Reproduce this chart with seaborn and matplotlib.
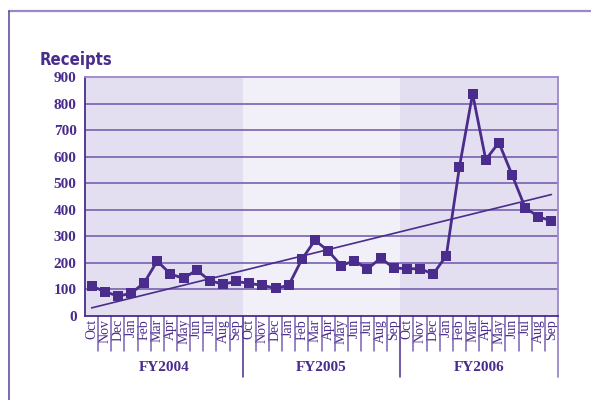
import numpy as np
import pandas as pd
import matplotlib
matplotlib.use('Agg')
import matplotlib.pyplot as plt
import seaborn as sns

# monthly receipts, Oct FY2004 .. Sep FY2006
months = ['Oct', 'Nov', 'Dec', 'Jan', 'Feb', 'Mar', 'Apr', 'May', 'Jun', 'Jul', 'Aug', 'Sep']
fiscal_years = ['FY2004', 'FY2005', 'FY2006']
fy2004 = [113, 92, 75, 85, 125, 207, 158, 142, 173, 133, 120, 130]
fy2005 = [123, 115, 105, 115, 213, 285, 246, 190, 208, 177, 218, 181]
fy2006 = [178, 178, 158, 227, 562, 837, 589, 653, 532, 408, 374, 358]
y_ticks = [0, 100, 200, 300, 400, 500, 600, 700, 800, 900]

dark = '#4a2c8c'
band_dark = '#e3dff0'
band_light = '#f1eff8'
grid_col = '#6e56aa'

df = pd.DataFrame({
    'month': months * 3,
    'fy': np.repeat(fiscal_years, 12),
    'receipts': fy2004 + fy2005 + fy2006,
})
df['pos'] = np.arange(len(df))

sns.set_theme(style='white')
plt.rcParams['font.family'] = ['Liberation Serif', 'DejaVu Serif']

fig = plt.figure(figsize=(5.91, 4.0), dpi=100)
ax = fig.add_axes([85 / 591, 84 / 400, 473 / 591, 239 / 400])

# fiscal year background bands
for i, fy in enumerate(fiscal_years):
    ax.axvspan(i * 12 - 0.5, i * 12 + 11.5, color=band_dark if i != 1 else band_light, zorder=0, lw=0)

for v in y_ticks[1:-1]:
    ax.axhline(v, color=grid_col, lw=1.1, zorder=1)

# linear trend
coef = np.polyfit(df['pos'], df['receipts'], 1)
ax.plot([df['pos'].iloc[0], df['pos'].iloc[-1]], np.polyval(coef, [df['pos'].iloc[0], df['pos'].iloc[-1]]),
        color=dark, lw=1.2, zorder=2)

sns.lineplot(data=df, x='pos', y='receipts', ax=ax, color=dark, lw=2.0,
             marker='s', markersize=7.5, markeredgewidth=0, zorder=3)

ax.set_xlim(-0.5, len(df) - 0.5)
ax.set_ylim(0, 900)
ax.set_yticks(y_ticks)
ax.set_yticklabels([str(v) for v in y_ticks], fontweight='bold', fontsize=11, color=dark)
ax.set_xticks(df['pos'])
ax.set_xticklabels(df['month'], rotation=90, fontsize=10, color=dark)
ax.tick_params(axis='both', length=0, pad=2)
ax.tick_params(axis='y', pad=6)
ax.set_xlabel('')
ax.set_ylabel('')

for side in ['left', 'bottom']:
    ax.spines[side].set_color(dark)
    ax.spines[side].set_linewidth(1.3)
for side in ['top', 'right']:
    ax.spines[side].set_color('#9c88c8')
    ax.spines[side].set_linewidth(1.3)

# separators under the axis
trans = ax.get_xaxis_transform()
for i in range(1, len(df)):
    long = i % 12 == 0
    ax.plot([i - 0.5, i - 0.5], [0, -0.255 if long else -0.146], transform=trans,
            color=dark if long else '#7a62b4', lw=1.1, clip_on=False)
ax.plot([len(df) - 0.5] * 2, [0, -0.255], transform=trans, color='#9c88c8', lw=1.3, clip_on=False)

for i, fy in enumerate(fiscal_years):
    ax.text(i * 12 + 5.5, -0.215, fy, transform=trans, ha='center', va='center',
            fontsize=11, fontweight='bold', color=dark)

fig.text(40 / 591, 340 / 400, 'Receipts', family='DejaVu Sans', fontstretch='condensed',
         fontweight='bold', fontsize=12, color=dark, va='center')

# outer frame
fig.add_artist(plt.Line2D([9 / 591, 1], [389 / 400] * 2, color='#9c88c8', lw=1.6))
fig.add_artist(plt.Line2D([9 / 591] * 2, [0, 389 / 400], color='#5a3fa0', lw=1.1))

fig.savefig('out.png', dpi=100)
